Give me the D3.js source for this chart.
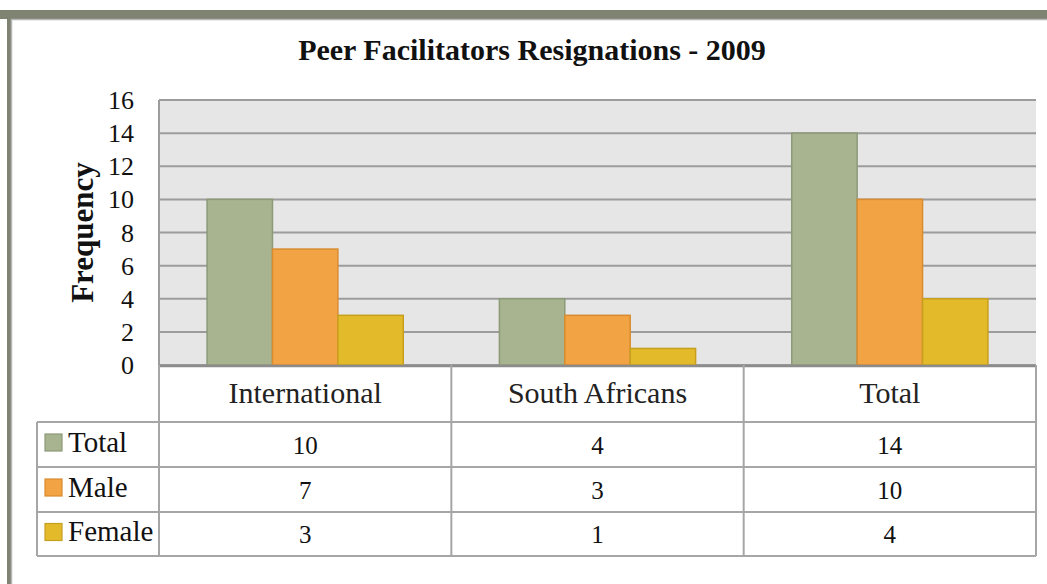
<!DOCTYPE html>
<html><head><meta charset="utf-8">
<script src="https://cdn.jsdelivr.net/npm/d3@7"></script>
<style>body{margin:0;background:#fff}svg{display:block}</style>
</head><body>
<svg id="c" width="1047" height="584"></svg>
<script>
const categories = ["International", "South Africans", "Total"];
const seriesNames = ["Total", "Male", "Female"];
const totalVals = [10, 4, 14];
const maleVals = [7, 3, 10];
const femaleVals = [3, 1, 4];
const yTicks = [0, 2, 4, 6, 8, 10, 12, 14, 16];
const title = "Peer Facilitators Resignations - 2009";
const yLabel = "Frequency";

const series = [
  {name: seriesNames[0], values: totalVals, fill: "#a7b48f", stroke: "#8d9a78"},
  {name: seriesNames[1], values: maleVals, fill: "#f2a444", stroke: "#d98b2f"},
  {name: seriesNames[2], values: femaleVals, fill: "#e3ba29", stroke: "#c79f1e"}
];

const font = "'Liberation Serif', 'DejaVu Serif', serif";
const svg = d3.select("#c");

// frame
svg.append("rect").attr("x", 0).attr("y", 10).attr("width", 1047).attr("height", 9).attr("fill", "#7f8371");
svg.append("rect").attr("x", 7).attr("y", 10).attr("width", 4).attr("height", 574).attr("fill", "#7f8371");
svg.append("line").attr("x1", 11).attr("x2", 1047).attr("y1", 19.5).attr("y2", 19.5).attr("stroke", "#b5b5b5").attr("stroke-width", 1.5);
svg.append("line").attr("x1", 11.5).attr("x2", 11.5).attr("y1", 19).attr("y2", 584).attr("stroke", "#b5b5b5").attr("stroke-width", 1.5);

const L = 159, R = 1036, T = 100, B = 365;
const x = d3.scaleBand().domain(categories).range([L, R]);
const xi = d3.scaleBand().domain(seriesNames).range([0, x.bandwidth()]).paddingInner(0).paddingOuter(0.735);
const y = d3.scaleLinear().domain([0, 16]).range([B, T]);

// title
svg.append("text").attr("x", 532).attr("y", 60).attr("text-anchor", "middle")
  .attr("font-family", font).attr("font-weight", "bold").attr("font-size", 30).attr("fill", "#111").text(title);

// plot bg
svg.append("rect").attr("x", L).attr("y", T).attr("width", R - L).attr("height", B - T).attr("fill", "#e6e6e6");

// grid
svg.append("g").selectAll("line").data(yTicks).join("line")
  .attr("x1", L).attr("x2", R).attr("y1", d => y(d)).attr("y2", d => y(d))
  .attr("stroke", "#9c9c9c").attr("stroke-width", 2);
svg.append("line").attr("x1", L).attr("x2", L).attr("y1", T).attr("y2", B)
  .attr("stroke", "#9c9c9c").attr("stroke-width", 2);

// y axis labels
const yAxis = d3.axisLeft(y).tickValues(yTicks).tickSize(0).tickPadding(0);
const ya = svg.append("g").attr("transform", `translate(${134},0)`).call(yAxis);
ya.select(".domain").remove();
ya.selectAll("text").attr("font-family", font).attr("font-size", 26).attr("fill", "#111").attr("dy", "0.33em");

svg.append("text").attr("transform", `translate(93,${(T + B) / 2 + 0}) rotate(-90)`).attr("text-anchor", "middle")
  .attr("font-family", font).attr("font-weight", "bold").attr("font-size", 31).attr("fill", "#111").text(yLabel);

// bars
series.forEach(s => {
  svg.append("g").selectAll("rect").data(categories).join("rect")
    .attr("x", (c) => x(c) + xi(s.name))
    .attr("y", (c, i) => y(s.values[i]))
    .attr("width", xi.bandwidth())
    .attr("height", (c, i) => y(0) - y(s.values[i]))
    .attr("fill", s.fill).attr("stroke", s.stroke).attr("stroke-width", 1.5);
});

// base axis line
svg.append("line").attr("x1", L).attr("x2", R).attr("y1", B + 1).attr("y2", B + 1).attr("stroke", "#8c8c8c").attr("stroke-width", 2.5);

// data table
const tLeft = 37, rowTops = [422, 467, 512], tBottom = 556;
const lineCol = "#a6a6a6";
const g = svg.append("g");
[...rowTops, tBottom].forEach(yy => {
  g.append("line").attr("x1", tLeft).attr("x2", R).attr("y1", yy).attr("y2", yy).attr("stroke", lineCol).attr("stroke-width", 2);
});
g.append("line").attr("x1", tLeft).attr("x2", tLeft).attr("y1", rowTops[0]).attr("y2", tBottom).attr("stroke", lineCol).attr("stroke-width", 2);
[L, ...categories.slice(1).map(c => x(c)), R].forEach(xx => {
  g.append("line").attr("x1", xx).attr("x2", xx).attr("y1", B).attr("y2", tBottom).attr("stroke", lineCol).attr("stroke-width", 2);
});

// header labels
g.selectAll("text.hdr").data(categories).join("text").attr("class", "hdr")
  .attr("x", c => x(c) + x.bandwidth() / 2).attr("y", 403).attr("text-anchor", "middle")
  .attr("font-family", font).attr("font-size", 30).attr("fill", "#222").text(c => c);

// rows
const rowH = [rowTops[1] - rowTops[0], rowTops[2] - rowTops[1], tBottom - rowTops[2]];
series.forEach((s, r) => {
  const top = rowTops[r], mid = top + rowH[r] / 2;
  g.append("rect").attr("x", 45).attr("y", mid - 10.5).attr("width", 17).attr("height", 17)
    .attr("fill", s.fill).attr("stroke", s.stroke).attr("stroke-width", 1.2);
  g.append("text").attr("x", 68).attr("y", mid + 7).attr("font-family", font).attr("font-size", 29)
    .attr("fill", "#111").text(s.name);
  g.selectAll("text.v" + r).data(categories).join("text").attr("class", "v" + r)
    .attr("x", c => x(c) + x.bandwidth() / 2).attr("y", mid + 9).attr("text-anchor", "middle")
    .attr("font-family", font).attr("font-size", 25).attr("fill", "#111")
    .text((c, i) => s.values[i]);
});
</script>
</body></html>
